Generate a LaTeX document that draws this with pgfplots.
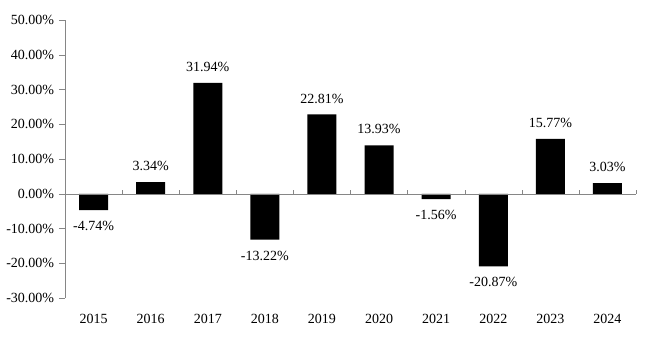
\documentclass[border=0pt]{standalone}
\usepackage{pgfplots}
\pgfplotsset{compat=1.18}
\usepackage{fontspec}
\setmainfont{Liberation Serif}
\definecolor{axgray}{HTML}{868686}
\begin{document}
\fontsize{14pt}{16pt}\selectfont
\begin{tikzpicture}
\useasboundingbox (-65pt,-52pt) rectangle (598pt,298pt);
\begin{axis}[
  at={(0pt,0pt)}, anchor=south west,
  scale only axis, width=571pt, height=278pt,
  xmin=-0.5, xmax=9.5, ymin=-30, ymax=50,
  axis lines*=left,
  x axis line style={draw=none},
  y axis line style={draw=axgray},
  /pgf/number format/assume math mode=true,
  xtick={0,...,9},
  xticklabels={2015,2016,2017,2018,2019,2020,2021,2022,2023,2024},
  major x tick style={draw=none},
  xticklabel shift=5pt,
  ytick={-30,-20,...,50},
  yticklabel={\pgfmathprintnumber[fixed,fixed zerofill,precision=2]{\tick}\%},
  major y tick style={draw=axgray},
  tick align=outside, major tick length=6pt,
  clip=false,
]
\addplot[ybar, fill=black, draw=none, bar width=29pt,
  nodes near coords={\pgfmathprintnumber[fixed,fixed zerofill,precision=2,assume math mode=true]{\pgfplotspointmeta}\%},
  nodes near coords style={text=black, inner ysep=11pt, inner xsep=0pt},
] coordinates {
  (0,-4.74) (1,3.34) (2,31.94) (3,-13.22) (4,22.81)
  (5,13.93) (6,-1.56) (7,-20.87) (8,15.77) (9,3.03)
};
\draw[axgray] (axis cs:-0.5,0) -- (axis cs:9.5,0);
\pgfplotsinvokeforeach{-0.5,0.5,1.5,2.5,3.5,4.5,5.5,6.5,7.5,8.5,9.5}{
  \draw[axgray] (axis cs:#1,0) -- ([yshift=4pt]axis cs:#1,0);
}
\end{axis}
\end{tikzpicture}
\end{document}
